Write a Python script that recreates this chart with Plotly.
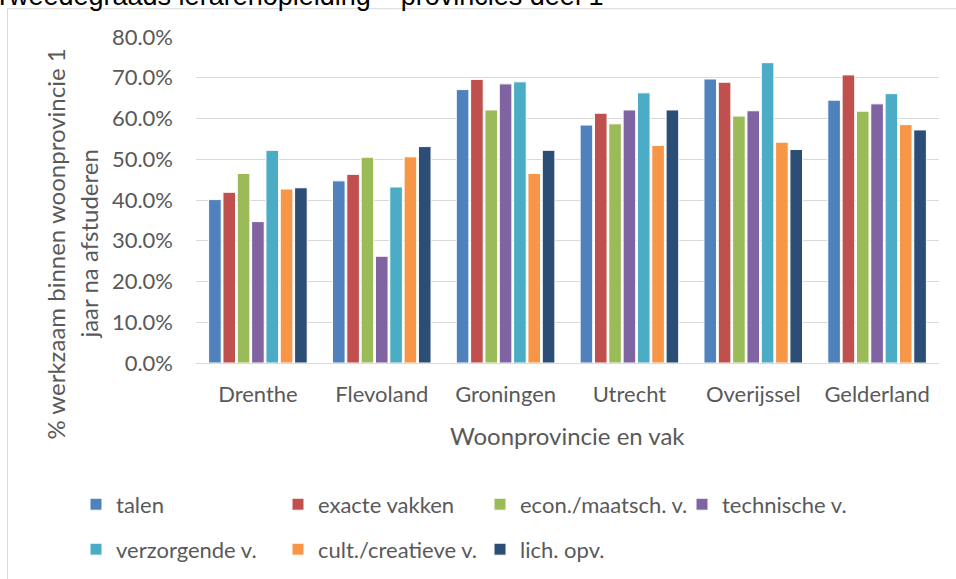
import plotly.graph_objects as go

# Woonprovincies on the x axis
provincies = ["Drenthe", "Flevoland", "Groningen", "Utrecht", "Overijssel", "Gelderland"]

# % werkzaam binnen woonprovincie 1 jaar na afstuderen, per vakgroep
talen = [0.401, 0.447, 0.671, 0.584, 0.697, 0.645]
exacte_vakken = [0.419, 0.463, 0.696, 0.613, 0.689, 0.707]
econ_maatsch = [0.465, 0.505, 0.621, 0.587, 0.606, 0.618]
technische = [0.347, 0.262, 0.685, 0.621, 0.619, 0.636]
verzorgende = [0.522, 0.432, 0.690, 0.663, 0.737, 0.661]
cult_creatief = [0.427, 0.506, 0.465, 0.534, 0.542, 0.585]
lich_opv = [0.430, 0.531, 0.522, 0.621, 0.524, 0.572]

series_names = ["talen", "exacte vakken", "econ./maatsch. v.", "technische v.",
                "verzorgende v.", "cult./creatieve v.", "lich. opv."]
series_values = [talen, exacte_vakken, econ_maatsch, technische,
                 verzorgende, cult_creatief, lich_opv]
series_colors = ["#4F81BD", "#C0504D", "#9BBB59", "#8064A2",
                 "#4BACC6", "#F79646", "#2C4D75"]

W, H = 956, 579
L, R, T, B = 196, 17, 37.3, 215.5  # plot area margins in px
plot_w = W - L - R
plot_h = H - T - B

def px_x(px):  # pixel x -> paper x
    return (px - L) / plot_w

def px_y(py):  # pixel y -> paper y
    return (H - B - py) / plot_h

grey = "#595959"
font = "Lato"

fig = go.Figure()
for idx, (name, vals, col) in enumerate(zip(series_names, series_values, series_colors)):
    fig.add_trace(go.Bar(
        x=provincies, y=vals, name=name,
        marker=dict(color=col, line=dict(color="white", width=1)),
        legend="legend" if idx < 4 else "legend2",  # two legend rows
    ))

legend_common = dict(
    orientation="h", xanchor="left", yanchor="middle",
    entrywidth=157, entrywidthmode="pixels",
    font=dict(family=font, size=22, color=grey),
    bgcolor="rgba(0,0,0,0)", itemclick=False,
)

fig.update_layout(
    width=W, height=H,
    margin=dict(l=L, r=R, t=T, b=B, autoexpand=False),
    paper_bgcolor="white", plot_bgcolor="white",
    barmode="group", bargap=0.19, bargroupgap=0.12,
    font=dict(family=font, color=grey),
    legend=dict(x=px_x(76), y=px_y(505), **legend_common),
    legend2=dict(x=px_x(76), y=px_y(550), **legend_common),
    showlegend=True,
)

fig.update_xaxes(
    showgrid=False, showline=True, linecolor="#d9d9d9", linewidth=1,
    ticks="", tickfont=dict(family=font, size=22, color=grey),
    ticklabelstandoff=12,
)
fig.update_yaxes(
    range=[0, 0.8], dtick=0.1, tickformat=".1%",
    showgrid=True, gridcolor="#d9d9d9", gridwidth=1,
    zeroline=False, showline=False, ticks="",
    tickfont=dict(family=font, size=22, color=grey),
    ticklabelstandoff=22,
)

# outer chart border (only top and left edge are inside the picture)
fig.add_shape(type="rect", xref="paper", yref="paper",
              x0=px_x(7.5), x1=px_x(W + 20), y0=px_y(9), y1=px_y(H + 20),
              line=dict(color="#d9d9d9", width=1), layer="below")

# y axis title, two lines
fig.add_annotation(text="% werkzaam binnen woonprovincie 1", textangle=-90,
                   xref="paper", yref="paper", x=px_x(56), y=px_y(245),
                   xanchor="center", yanchor="middle", showarrow=False,
                   font=dict(family=font, size=24, color=grey))
fig.add_annotation(text="jaar na afstuderen", textangle=-90,
                   xref="paper", yref="paper", x=px_x(89), y=px_y(245),
                   xanchor="center", yanchor="middle", showarrow=False,
                   font=dict(family=font, size=24, color=grey))

# x axis title
fig.add_annotation(text="Woonprovincie en vak", xref="paper", yref="paper",
                   x=0.5, y=px_y(436), xanchor="center", yanchor="middle",
                   showarrow=False, font=dict(family=font, size=24, color=grey))

# document title, cut off at the top of the picture
fig.add_annotation(text="Tweedegraads lerarenopleiding \u2013 provincies deel 1",
                   xref="paper", yref="paper", x=px_x(605), y=px_y(-4.2),
                   xanchor="right", yanchor="middle", showarrow=False,
                   font=dict(family="Liberation Sans", size=27, color="black"))

# drop the default 8px page margin so the figure sits at the window corner
fig.write_html("out.html", config={"displayModeBar": False},
               post_script="document.body.style.margin='0';")
